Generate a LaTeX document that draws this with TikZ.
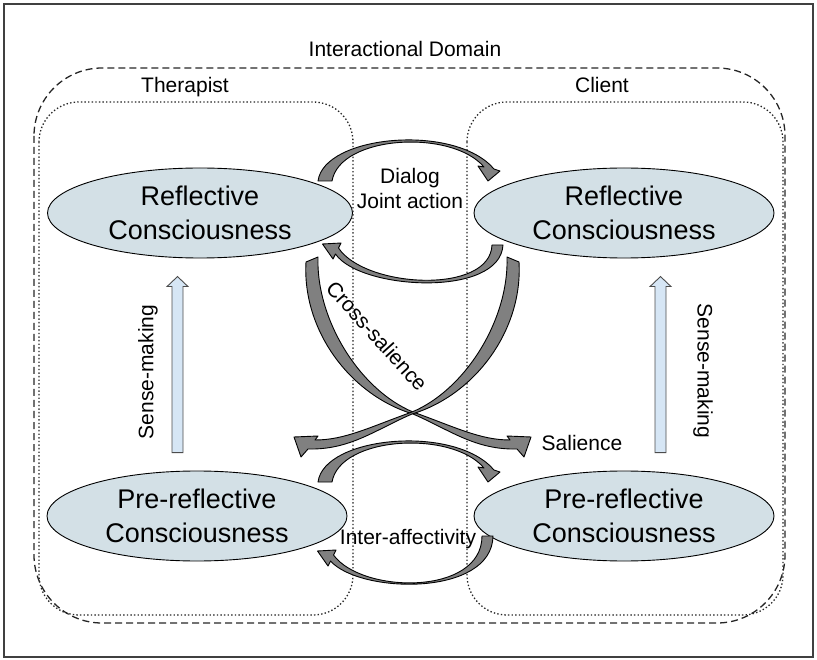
\documentclass[tikz,border=0pt]{standalone}
\usepackage{fontspec}
\setmainfont{Liberation Sans}
\usepackage{tikz}
\usetikzlibrary{shapes.geometric,calc}
\definecolor{ellfill}{RGB}{211,224,230}
\definecolor{sensefill}{RGB}{214,230,245}
\definecolor{bandgray}{RGB}{128,128,128}

\begin{document}
\begin{tikzpicture}[x=1pt,y=-1pt,
  consc/.style={ellipse, draw=black, line width=0.9pt, fill=ellfill, minimum width=300pt, minimum height=90pt, inner sep=0pt, align=center, font=\fontsize{27}{34}\selectfont},
  lbl/.style={font=\fontsize{21}{25}\selectfont, inner sep=0pt},
  band/.style={draw=black, line width=0.9pt, fill=bandgray, line join=round},
  sensebox/.style={draw=black!70, line width=0.9pt, fill=sensefill, line join=miter},
  domainbox/.style={dash pattern=on 7pt off 4pt, line width=1.3pt, black!85, rounded corners=68pt},
  agentbox/.style={dash pattern=on 1.4pt off 2.2pt, line width=1.3pt, black!85, rounded corners=40pt}]

 \useasboundingbox (0,0) rectangle (817,660);
 \draw[black!75, line width=1.2pt] (4,4) rectangle (813,657);

 \draw[domainbox] (34,68) rectangle (785,623);
 \draw[agentbox] (39,102) rectangle (353,615);
 \draw[agentbox] (467,102) rectangle (783,615);

 \node[lbl, anchor=base] (domain_lbl) at (405,57) {Interactional Domain};
 \node[lbl, anchor=base] (therapist_lbl) at (185,93) {Therapist};
 \node[lbl, anchor=base] (client_lbl) at (602,93) {Client};


 \node[consc, minimum width=305pt] (refl_T) at (200,213)
     {Reflective\\Consciousness};

 \node[consc] (refl_C) at (624,213)
     {Reflective\\Consciousness};

 \node[consc] (pre_T) at (197,516)
     {Pre-reflective\\Consciousness};

 \node[consc] (pre_C) at (624,516)
     {Pre-reflective\\Consciousness};


 \draw[sensebox] ($(pre_T.north)+(-25,-18)$) -- ++(0,-166) -- ++(-5,0) -- ++(10.5,-10)
     -- ++(10.5,10) -- ++(-5,0) -- ++(0,166) -- cycle;
 \draw[sensebox] ($(pre_C.north)+(31,-18)$) -- ++(0,-166) -- ++(-5,0) -- ++(10.5,-10)
     -- ++(10.5,10) -- ++(-5,0) -- ++(0,166) -- cycle;

 \node[lbl, rotate=90] (sense_T) at (148,372) {Sense-making};
 \node[lbl, rotate=-90] (sense_C) at (703,371) {Sense-making};


 \draw[band] (318,181) .. controls (324,135) and (455,123) .. (494,169) -- (500,171) -- (488,181)
     -- (478,166) -- (484,167) .. controls (452,129) and (340,135) .. (332,181) -- cycle;
 \draw[band] (503,245) .. controls (500,298) and (360,290) .. (335.5,254) -- (333,259) -- (322.5,244)
     -- (341,243) -- (338.5,248) .. controls (365,288) and (490,295) .. (492,245) -- cycle;

 \draw[band] (306,262) .. controls (302,330) and (350,395) .. (413,414) .. controls (450,430) and (475,450) .. (517,449)
     -- (524,457) -- (531,437) -- (507,436) -- (510,440) .. controls (480,440) and (455,427) .. (413,412)
     .. controls (360,390) and (316,320) .. (318,257) -- cycle;
 \draw[band] (519,262) .. controls (523,330) and (475,395) .. (412,414) .. controls (375,430) and (350,450) .. (308,449)
     -- (301,457) -- (294,437) -- (318,436) -- (315,440) .. controls (345,440) and (370,427) .. (412,412)
     .. controls (465,390) and (509,320) .. (507,257) -- cycle;

 \draw[band] (318,482) .. controls (324,436) and (455,424) .. (494,470) -- (500,472) -- (488,482)
     -- (478,467) -- (484,468) .. controls (452,430) and (340,436) .. (332,482) -- cycle;
 \draw[band] (493,536) .. controls (492,597) and (360,594) .. (330.5,561) -- (328,566) -- (317.5,551)
     -- (336,550) -- (333.5,555) .. controls (362,594) and (482,596) .. (482,536) -- cycle;


 \node[lbl, align=center] (dialog_lbl) at (410,188) {Dialog\\Joint action};
 \node[lbl, rotate=-48] (cross_lbl) at (377,336) {Cross-salience};
 \node[lbl, anchor=base] (salience_lbl) at (582,450) {Salience};
 \node[lbl, anchor=base] (inter_lbl) at (408,544) {Inter-affectivity};

\end{tikzpicture}
\end{document}
